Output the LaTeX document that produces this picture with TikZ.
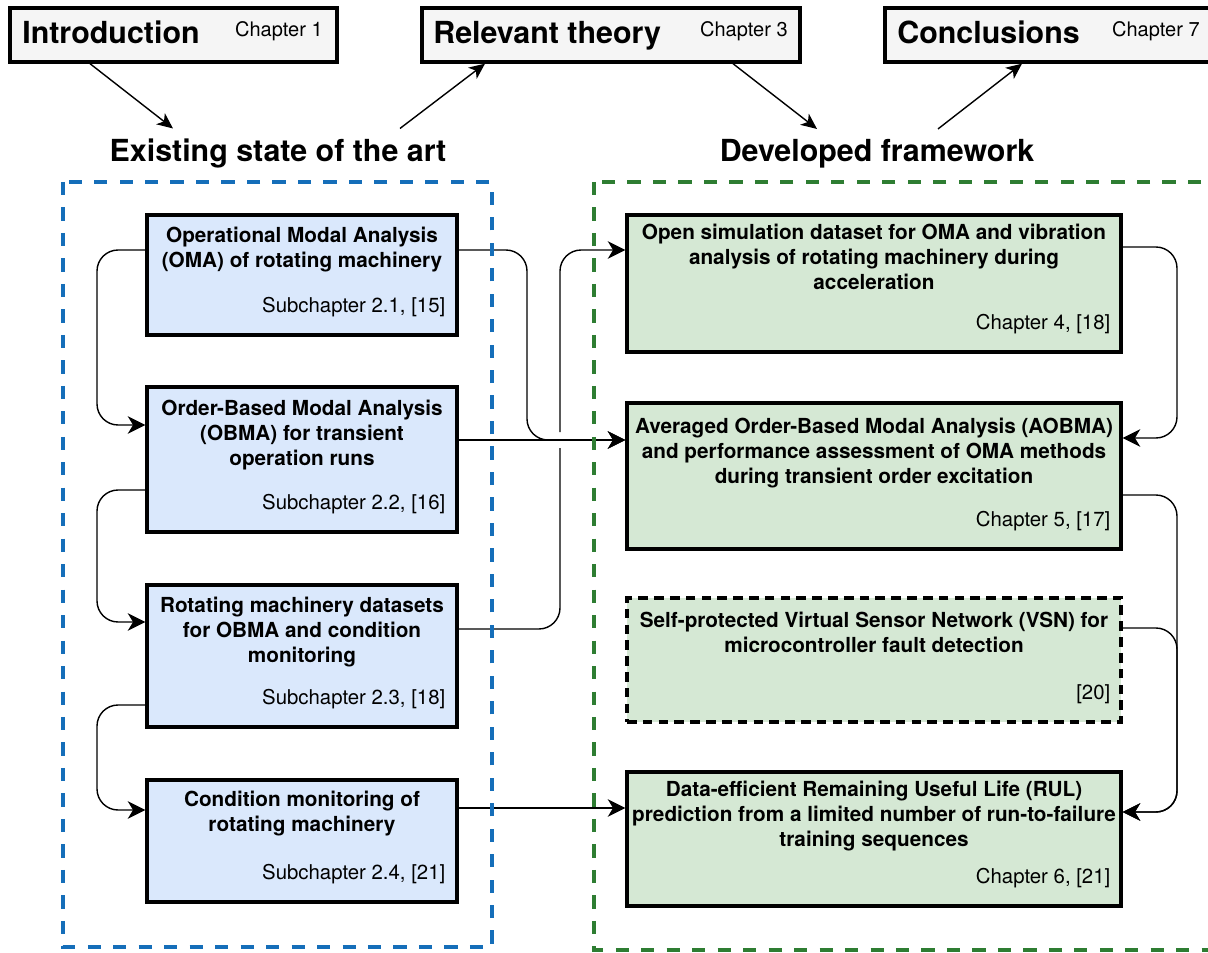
\documentclass[tikz,border=0pt]{standalone}
\usepackage{fontspec}
\setmainfont{TeX Gyre Heros}
\usetikzlibrary{arrows.meta,fit,positioning}
\definecolor{blueFill}{HTML}{DAE8FC}
\definecolor{greenFill}{HTML}{D5E8D4}
\definecolor{greyFill}{HTML}{F5F5F5}
\definecolor{artBlue}{HTML}{156EB9}
\definecolor{fwGreen}{HTML}{2E7D32}

\tikzset{
  box/.style={draw, line width=1.9pt, inner sep=0pt},
  topbox/.style={box, fill=greyFill},
  artbox/.style={box, fill=blueFill},
  fwbox/.style={box, fill=greenFill},
  title/.style={font=\fontsize{17.3}{20}\selectfont\bfseries, inner sep=0pt},
  chap/.style={font=\fontsize{11.4}{13.7}\selectfont, inner sep=0pt},
  head/.style={font=\fontsize{17.3}{20}\selectfont\bfseries, inner sep=6pt, anchor=base},
  btitle/.style={font=\fontsize{11.8}{14.2}\selectfont\bfseries, align=center, inner sep=0pt},
  bref/.style={font=\fontsize{11.6}{14}\selectfont, inner sep=0pt},
  conn/.style={line width=0.8pt, rounded corners=12pt, -{Stealth[length=10pt,width=10pt,inset=3pt]}},
  arr/.style={line width=0.8pt, -{Stealth[length=9pt,width=8pt,inset=2.5pt]}},
  frame/.style={line width=2.5pt, dash pattern=on 7.5pt off 7pt},
}

\begin{document}
\begin{tikzpicture}[x=0.02cm, y=-0.02cm]
\useasboundingbox (0,0) rectangle (1208,953);

% chapters on top
\node[topbox, fit={(10,8) (337,62)}] (intro) {};
\node[topbox, fit={(422,8) (800,62)}] (theory) {};
\node[topbox, fit={(885,8) (1220,62)}] (concl) {};
\node[title, anchor=base west] (introT) at (22,44) {Introduction};
\node[chap, anchor=base east] (introC) at (323,37) {Chapter 1};
\node[title, anchor=base west] (theoryT) at (433,44) {Relevant theory};
\node[chap, anchor=base east] (theoryC) at (788,37) {Chapter 3};
\node[title, anchor=base west] (conclT) at (897,44) {Conclusions};
\node[chap, anchor=base east] (conclC) at (1200,37) {Chapter 7};

% headings
\node[head] (art) at (278,162) {Existing state of the art};
\node[head] (fw) at (877,162) {Developed framework};

\draw[arr] (intro.south -| 90,0) -- (art.north -| 173,0);
\draw[arr] (art.north -| 400,0) -- (theory.south -| 485,0);
\draw[arr] (theory.south -| 733,0) -- (fw.north -| 817,0);
\draw[arr] (fw.north -| 938,0) -- (concl.south -| 1022,0);

% state of the art
\node[artbox, fit={(147,215) (457,335)}] (b1) {};
\node[artbox, fit={(147,387) (457,532)}] (b2) {};
\node[artbox, fit={(147,585) (457,727)}] (b3) {};
\node[artbox, fit={(147,780) (457,902)}] (b4) {};
\node[btitle, below=0.26cm of b1.north] (b1t) {Operational Modal Analysis\\(OMA) of rotating machinery};
\node[btitle, below=0.28cm of b2.north] (b2t) {Order-Based Modal Analysis\\(OBMA) for transient\\operation runs};
\node[btitle, below=0.26cm of b3.north] (b3t) {Rotating machinery datasets\\for OBMA and condition\\monitoring};
\node[btitle, below=0.24cm of b4.north] (b4t) {Condition monitoring of\\rotating machinery};
\node[bref, above left=0.39cm and 0.26cm of b1.south east] (b1r) {Subchapter 2.1, [15]};
\node[bref, above left=0.39cm and 0.26cm of b2.south east] (b2r) {Subchapter 2.2, [16]};
\node[bref, above left=0.39cm and 0.26cm of b3.south east] (b3r) {Subchapter 2.3, [18]};
\node[bref, above left=0.39cm and 0.26cm of b4.south east] (b4r) {Subchapter 2.4, [21]};

% framework
\node[fwbox, fit={(627,215) (1121,352)}] (g1) {};
\node[fwbox, fit={(627,403) (1121,549)}] (g2) {};
\node[fwbox, dash pattern=on 5.5pt off 3.5pt, fit={(627,598) (1121,722)}] (g3) {};
\node[fwbox, fit={(627,772) (1121,906)}] (g4) {};
\node[btitle, below=0.2cm of g1.north] (g1t) {Open simulation dataset for OMA and vibration\\analysis of rotating machinery during\\acceleration};
\node[btitle, below=0.32cm of g2.north] (g2t) {Averaged Order-Based Modal Analysis (AOBMA)\\and performance assessment of OMA methods\\during transient order excitation};
\node[btitle, below=0.3cm of g3.north] (g3t) {Self-protected Virtual Sensor Network (VSN) for\\microcontroller fault detection};
\node[btitle, below=0.2cm of g4.north] (g4t) {Data-efficient Remaining Useful Life (RUL)\\prediction from a limited number of run-to-failure\\training sequences};
\node[bref, above left=0.39cm and 0.24cm of g1.south east] (g1r) {Chapter 4, [18]};
\node[bref, above left=0.39cm and 0.24cm of g2.south east] (g2r) {Chapter 5, [17]};
\node[bref, above left=0.39cm and 0.24cm of g3.south east] (g3r) {[20]};
\node[bref, above left=0.39cm and 0.24cm of g4.south east] (g4r) {Chapter 6, [21]};

% links
\draw[conn] (b1.west |- 0,250) -| (97,425) -- (b2.west |- 0,425);
\draw[conn] (b2.west |- 0,490) -| (97,622) -- (b3.west |- 0,622);
\draw[conn] (b3.west |- 0,705) -| (97,810) -- (b4.west |- 0,810);
\draw[conn] (b3.east |- 0,629) -| (560,448) (560,432) |- (g1.west |- 0,250);
\draw[conn] (b2.east |- 0,440) -- (g2.west |- 0,440);
\draw[conn] (b1.east |- 0,250) -| (527,440) -- (g2.west |- 0,440);
\draw[conn] (b4.east |- 0,808) -- (g4.west |- 0,808);
\draw[conn] (g1.east |- 0,247) -| (1177,438) -- (g2.east |- 0,438);
\draw[conn] (g2.east |- 0,495) -| (1177,812) -- (g4.east |- 0,812);
\draw[conn] (g3.east |- 0,628) -| (1177,812) -- (g4.east |- 0,812);

% groups
\draw[frame, artBlue] (63,182) rectangle (492,947);
\draw[frame, fwGreen] (594,182) rectangle (1225,950);
\end{tikzpicture}
\end{document}
